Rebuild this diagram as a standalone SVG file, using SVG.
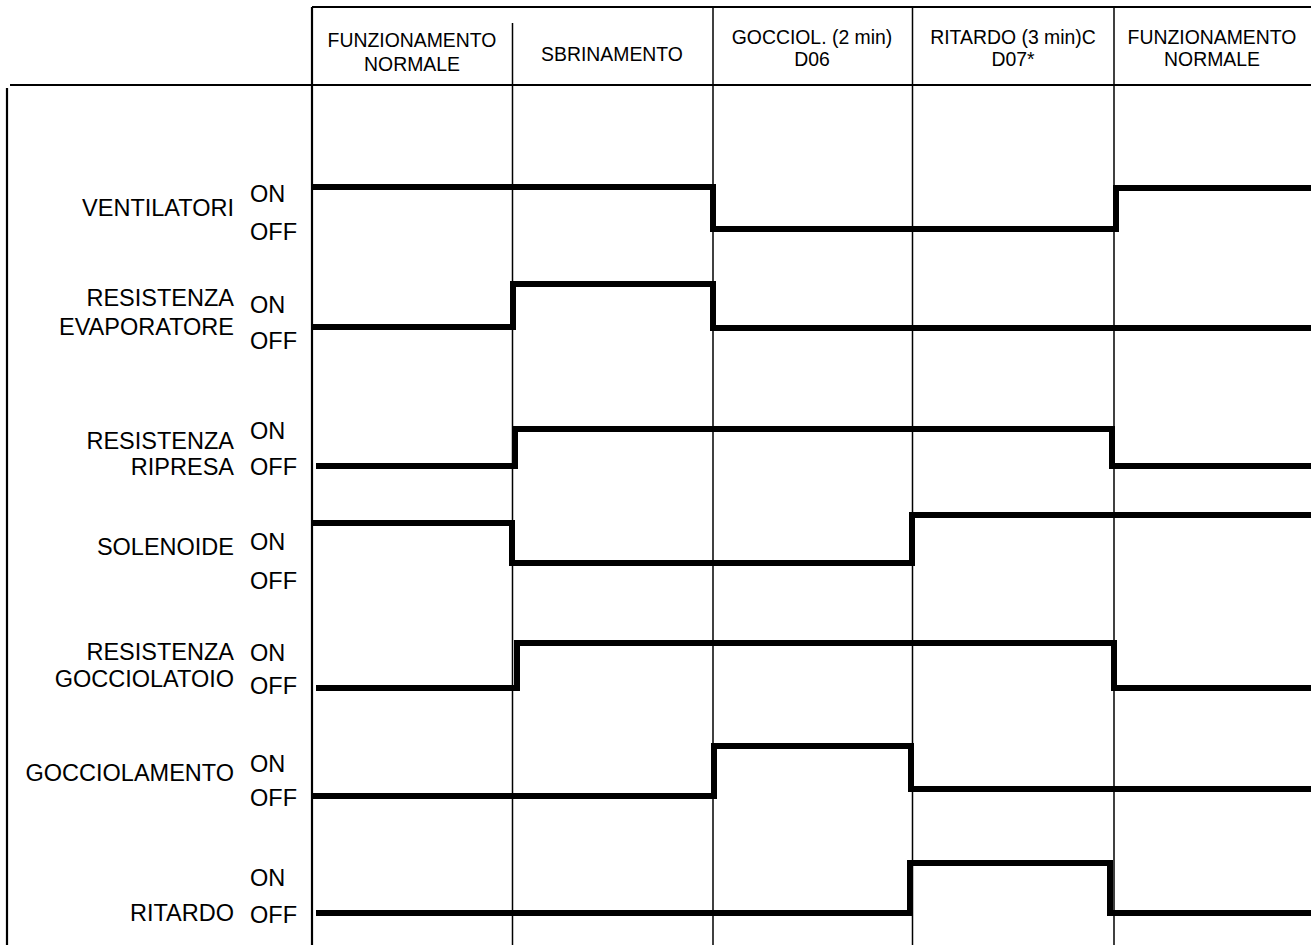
<svg xmlns="http://www.w3.org/2000/svg" width="1311" height="945" viewBox="0 0 1311 945">
<style>
.grid{stroke:#000;stroke-width:1.5;fill:none}
.frame{stroke:#000;stroke-width:2.2;fill:none}
.sig{stroke:#000;stroke-width:6;fill:none;stroke-linejoin:miter;stroke-linecap:butt}
.hd{font-family:"Liberation Sans",Arial,sans-serif;font-size:19.4px;fill:#000;text-anchor:middle}
.lb{font-family:"Liberation Sans",Arial,sans-serif;font-size:23.5px;fill:#000;text-anchor:end}
.st{font-family:"Liberation Sans",Arial,sans-serif;font-size:23.5px;fill:#000;text-anchor:start}
</style>
<rect width="1311" height="945" fill="#fff"/>
<g id="grid">
<line class="frame" x1="312" y1="7" x2="1311" y2="7"/>
<line class="frame" x1="312" y1="7" x2="312" y2="945"/>
<line class="frame" x1="10" y1="85" x2="1311" y2="85"/>
<line class="frame" x1="7" y1="88" x2="7" y2="945"/>
<line class="grid" x1="512.5" y1="23" x2="512.5" y2="945"/>
<line class="grid" x1="713" y1="7" x2="713" y2="945"/>
<line class="grid" x1="912.5" y1="7" x2="912.5" y2="945"/>
<line class="grid" x1="1114" y1="7" x2="1114" y2="945"/>
</g>
<g id="headers">
<text class="hd" x="412" y="47">FUNZIONAMENTO</text>
<text class="hd" x="412" y="71">NORMALE</text>
<text class="hd" x="612" y="61">SBRINAMENTO</text>
<text class="hd" x="812" y="44">GOCCIOL. (2 min)</text>
<text class="hd" x="812" y="66">D06</text>
<text class="hd" x="1013" y="44">RITARDO (3 min)C</text>
<text class="hd" x="1013" y="66">D07*</text>
<text class="hd" x="1212" y="44">FUNZIONAMENTO</text>
<text class="hd" x="1212" y="66">NORMALE</text>
</g>
<g id="row-ventilatori">
<text class="lb" x="234" y="216">VENTILATORI</text>
<text class="st" x="250" y="202">ON</text>
<text class="st" x="250" y="240">OFF</text>
</g>
<g id="row-evaporatore">
<text class="lb" x="234" y="306">RESISTENZA</text>
<text class="lb" x="234" y="335">EVAPORATORE</text>
<text class="st" x="250" y="313">ON</text>
<text class="st" x="250" y="349">OFF</text>
</g>
<g id="row-ripresa">
<text class="lb" x="234" y="449">RESISTENZA</text>
<text class="lb" x="234" y="475">RIPRESA</text>
<text class="st" x="250" y="439">ON</text>
<text class="st" x="250" y="475">OFF</text>
</g>
<g id="row-solenoide">
<text class="lb" x="234" y="555">SOLENOIDE</text>
<text class="st" x="250" y="550">ON</text>
<text class="st" x="250" y="589">OFF</text>
</g>
<g id="row-gocciolatoio">
<text class="lb" x="234" y="660">RESISTENZA</text>
<text class="lb" x="234" y="687">GOCCIOLATOIO</text>
<text class="st" x="250" y="661">ON</text>
<text class="st" x="250" y="694">OFF</text>
</g>
<g id="row-gocciolamento">
<text class="lb" x="234" y="781">GOCCIOLAMENTO</text>
<text class="st" x="250" y="772">ON</text>
<text class="st" x="250" y="806">OFF</text>
</g>
<g id="row-ritardo">
<text class="lb" x="234" y="921">RITARDO</text>
<text class="st" x="250" y="886">ON</text>
<text class="st" x="250" y="923">OFF</text>
</g>
<g id="connectors">
<path class="sig" d="M312,187 H713 V229 H1116 V188 H1311"/>
<path class="sig" d="M312,327 H513 V284 H713 V328 H1311"/>
<path class="sig" d="M316,466 H515 V429 H1112 V466 H1311"/>
<path class="sig" d="M312,523 H512 V563 H912 V515 H1311"/>
<path class="sig" d="M316,688 H517 V643 H1114 V688 H1311"/>
<path class="sig" d="M312,796 H714 V746 H911 V789 H1311"/>
<path class="sig" d="M316,913 H910 V863 H1110 V913 H1311"/>
</g>
</svg>
